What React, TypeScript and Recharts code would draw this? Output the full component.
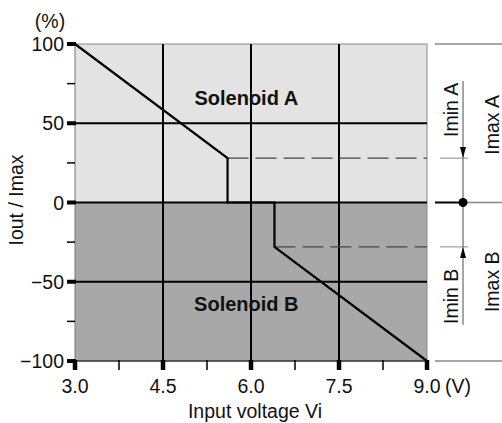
import React from 'react';
import { ComposedChart, Line, XAxis, YAxis, ReferenceArea, ReferenceLine, ReferenceDot } from 'recharts';

// ---- data ----
const voltage = [3.0, 5.6, 5.6, 6.4, 6.4, 9.0];
const ratio = [100, 28, 0, 0, -28, -100];
const xTicks = [3, 3.75, 4.5, 5.25, 6, 6.75, 7.5, 8.25, 9];
const yTicks = [-100, -75, -50, -25, 0, 25, 50, 75, 100];
const xMajor = [3, 4.5, 6, 7.5, 9];
const yMajor = [-100, -50, 0, 50, 100];
const xGrid = [4.5, 6, 7.5];
const yGrid = [-50, 0, 50];
const iminA = 28;
const iminB = -28;
const regionNames = ['Solenoid A', 'Solenoid B'];
const annotationNames = ['Imin A', 'Imax A', 'Imin B', 'Imax B'];

// ---- annotation layout (data units, outside the plot) ----
const ANN = { start: 9.136, shortStart: 9.22, shortEnd: 9.7, axis: 9.614, end: 10.35, minLabel: 9.528, maxLabel: 10.227, top: 76.6, bottom: -77.2 };

const data = voltage.map((v, i) => ({ v, r: ratio[i] }));
const FONT = "'Liberation Sans', Arial, Helvetica, sans-serif";
const FS = 19.5;

const YTick = (props: any) => {
  const { x, y, payload } = props;
  const v = payload.value;
  const major = yMajor.includes(v);
  const ax = x + 11;
  return (
    <g>
      <line x1={ax - 8} x2={ax + (major ? 1 : 0)} y1={y} y2={y} stroke="#000" strokeWidth={major ? 4 : 1.5} />
      {major && (
        <text x={x} y={y + 7} textAnchor="end" fontSize={FS} fontFamily={FONT} fill="#111">
          {v < 0 ? `\u2212${-v}` : `${v}`}
        </text>
      )}
    </g>
  );
};

const XTick = (props: any) => {
  const { x, y, payload } = props;
  const v = payload.value;
  const major = xMajor.includes(v);
  const ay = y - 13;
  return (
    <g>
      <line x1={x} x2={x} y1={ay - 1} y2={ay + 9} stroke="#000" strokeWidth={major ? 4.5 : 1.5} />
      {major && (
        <text x={x} y={ay + 32} textAnchor="middle" fontSize={FS} fontFamily={FONT} fill="#111">
          {v.toFixed(1)}
        </text>
      )}
      {v === 9 && (
        <text x={x + 18} y={ay + 32} textAnchor="start" fontSize={FS} fontFamily={FONT} fill="#111">(V)</text>
      )}
    </g>
  );
};

const yLabel = (p: any) => {
  const vb = p.viewBox;
  const cy = vb.y + vb.height / 2 - 2.5;
  return (
    <g>
      <text x={vb.x + 50} y={vb.y - 16} textAnchor="middle" fontSize={FS} fontFamily={FONT} fill="#111">(%)</text>
      <text x={vb.x + 23} y={cy} transform={`rotate(-90 ${vb.x + 23} ${cy})`} textAnchor="middle" fontSize={FS} fontFamily={FONT} fill="#111">Iout / Imax</text>
    </g>
  );
};

const xLabel = (p: any) => {
  const vb = p.viewBox;
  return (
    <text x={vb.x + vb.width / 2 + 4} y={vb.y + 57} textAnchor="middle" fontSize={FS} fontFamily={FONT} fill="#111">Input voltage Vi</text>
  );
};

const rotText = (t: string) => (p: any) => (
  <text x={p.cx} y={p.cy} transform={`rotate(-90 ${p.cx} ${p.cy})`} textAnchor="middle" fontSize={FS} fontFamily={FONT} fill="#111">{t}</text>
);
const boldText = (t: string) => (p: any) => (
  <text x={p.cx} y={p.cy} textAnchor="middle" fontSize={20} fontWeight="bold" fontFamily={FONT} fill="#111">{t}</text>
);
const arrow = (dir: number) => (p: any) => (
  <polygon points={`${p.cx},${p.cy} ${p.cx - 3},${p.cy - dir * 11} ${p.cx + 3},${p.cy - dir * 11}`} fill="#000" stroke="none" />
);
const dot = (p: any) => <circle cx={p.cx} cy={p.cy} r={4.5} fill="#000" />;

export default function App() {
  return (
    <div style={{ position: 'absolute', left: 0, top: 0, width: 502, height: 423, background: '#fff' }}>
      <ComposedChart width={502} height={423} data={data} margin={{ top: 44, right: 75, bottom: 0, left: 0 }}>
        <XAxis
          dataKey="v"
          type="number"
          domain={[3, 9]}
          ticks={xTicks}
          interval={0}
          tickSize={9}
          tickMargin={4}
          height={62}
          tickLine={false}
          axisLine={{ stroke: '#333', strokeWidth: 1.5 }}
          tick={XTick}
          label={xLabel}
        />
        <YAxis
          type="number"
          domain={[-100, 100]}
          ticks={yTicks}
          interval={0}
          tickSize={8}
          tickMargin={3}
          width={75}
          tickLine={false}
          axisLine={{ stroke: '#777', strokeWidth: 1 }}
          tick={YTick}
          label={yLabel}
        />
        <ReferenceArea x1={3} x2={9} y1={0} y2={100} fill="#e3e3e3" fillOpacity={1} stroke="none" />
        <ReferenceArea x1={3} x2={9} y1={-100} y2={0} fill="#a8a8a8" fillOpacity={1} stroke="none" />
        <ReferenceLine y={100} stroke="#888" strokeWidth={1} />
        <ReferenceLine x={9} stroke="#888" strokeWidth={1} />
        {xGrid.map((g) => (
          <ReferenceLine key={`xg${g}`} x={g} stroke="#000" strokeWidth={2} />
        ))}
        {yGrid.map((g) => (
          <ReferenceLine key={`yg${g}`} y={g} stroke="#000" strokeWidth={2} />
        ))}
        <ReferenceLine segment={[{ x: voltage[1], y: iminA }, { x: 9, y: iminA }]} stroke="#444" strokeWidth={1.1} strokeDasharray="21 7" />
        <ReferenceLine segment={[{ x: voltage[4], y: iminB }, { x: 9, y: iminB }]} stroke="#444" strokeWidth={1.1} strokeDasharray="21 7" />

        {/* right-hand annotation */}
        <ReferenceLine ifOverflow="visible" segment={[{ x: ANN.start, y: 100 }, { x: ANN.end, y: 100 }]} stroke="#888" strokeWidth={1.5} />
        <ReferenceLine ifOverflow="visible" segment={[{ x: ANN.start, y: -100 }, { x: ANN.end, y: -100 }]} stroke="#888" strokeWidth={1.5} />
        <ReferenceLine ifOverflow="visible" segment={[{ x: ANN.start, y: 0 }, { x: ANN.axis, y: 0 }]} stroke="#000" strokeWidth={2} />
        <ReferenceLine ifOverflow="visible" segment={[{ x: ANN.axis, y: 0 }, { x: ANN.end, y: 0 }]} stroke="#888" strokeWidth={1.5} />
        <ReferenceLine ifOverflow="visible" segment={[{ x: ANN.shortStart, y: iminA }, { x: ANN.shortEnd, y: iminA }]} stroke="#888" strokeWidth={1} />
        <ReferenceLine ifOverflow="visible" segment={[{ x: ANN.shortStart, y: iminB }, { x: ANN.shortEnd, y: iminB }]} stroke="#888" strokeWidth={1} />
        <ReferenceLine ifOverflow="visible" segment={[{ x: ANN.axis, y: ANN.top }, { x: ANN.axis, y: ANN.bottom }]} stroke="#888" strokeWidth={1.5} />
        <ReferenceDot ifOverflow="visible" x={ANN.axis} y={iminA} r={3} shape={arrow(1)} />
        <ReferenceDot ifOverflow="visible" x={ANN.axis} y={iminB} r={3} shape={arrow(-1)} />
        <ReferenceDot ifOverflow="visible" x={ANN.axis} y={0} r={4} shape={dot} />
        <ReferenceDot ifOverflow="visible" x={ANN.minLabel} y={58.5} r={1} shape={rotText(annotationNames[0])} />
        <ReferenceDot ifOverflow="visible" x={ANN.maxLabel} y={49} r={1} shape={rotText(annotationNames[1])} />
        <ReferenceDot ifOverflow="visible" x={ANN.minLabel} y={-59.2} r={1} shape={rotText(annotationNames[2])} />
        <ReferenceDot ifOverflow="visible" x={ANN.maxLabel} y={-50} r={1} shape={rotText(annotationNames[3])} />

        <ReferenceDot x={5.92} y={61.5} r={1} shape={boldText(regionNames[0])} />
        <ReferenceDot x={5.92} y={-68.2} r={1} shape={boldText(regionNames[1])} />

        <Line dataKey="r" type="linear" stroke="#000" strokeWidth={2.2} dot={false} activeDot={false} isAnimationActive={false} />
      </ComposedChart>
    </div>
  );
}
